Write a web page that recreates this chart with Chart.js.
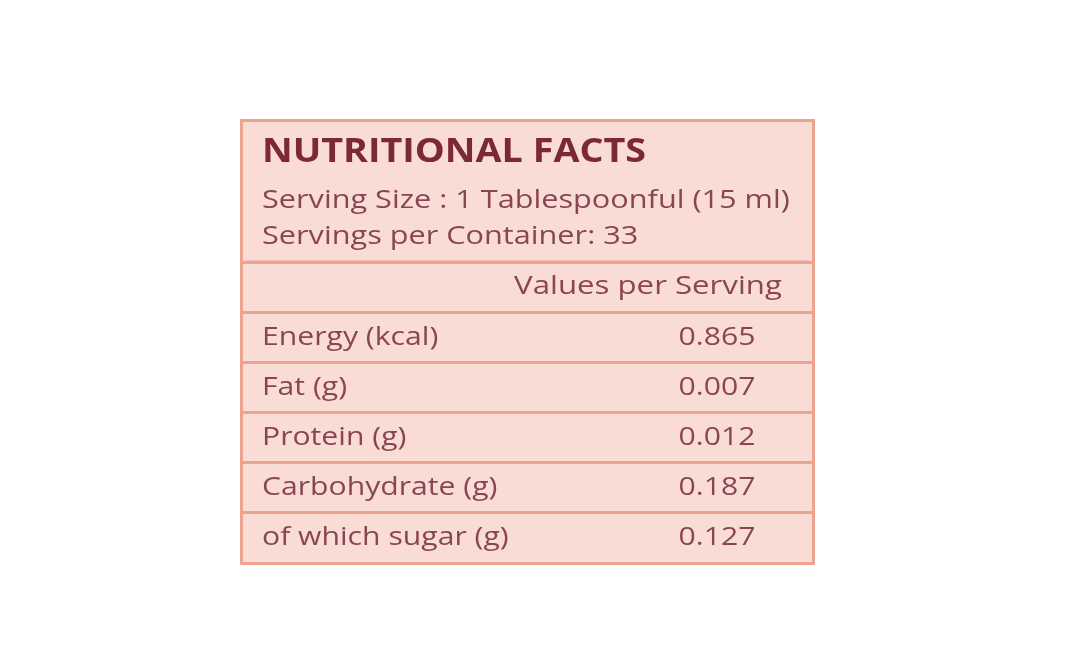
<!DOCTYPE html>
<html>
<head>
<meta charset="utf-8">
<script src="https://cdn.jsdelivr.net/npm/chart.js@4"></script>
<style>
  html, body { margin: 0; padding: 0; background: #fff; }
  #wrap { width: 1068px; height: 671px; }
</style>
</head>
<body>
<div id="wrap"><canvas id="c" width="1068" height="671"></canvas></div>
<script>
const title = 'NUTRITIONAL FACTS';
const servingLines = ['Serving Size : 1 Tablespoonful (15 ml)', 'Servings per Container: 33'];
const columnHeader = 'Values per Serving';
const nutrients = ['Energy (kcal)', 'Fat (g)', 'Protein (g)', 'Carbohydrate (g)', 'of which sugar (g)'];
const values = ['0.865', '0.007', '0.012', '0.187', '0.127'];

const rowLabels = [columnHeader, ...nutrients];
const dark = '#7b2a35';
const text = '#8a4650';
const line = '#eda48f';
const fill = '#fadcd6';

// draw text stretched horizontally (the label font is wider than Open Sans)
function wideText(ctx, s, x, y, sx, align) {
  ctx.save();
  ctx.translate(x, y);
  ctx.scale(sx, 1);
  ctx.textAlign = align || 'left';
  ctx.fillText(s, 0, 0);
  ctx.restore();
}

const tablePlugin = {
  id: 'nutritionTable',
  beforeDraw(chart) {
    const { ctx, chartArea: a } = chart;
    ctx.save();
    ctx.fillStyle = fill;
    ctx.fillRect(a.left, 119, a.right - a.left, a.bottom - 119);
    ctx.restore();
  },
  afterDraw(chart) {
    const { ctx, chartArea: a } = chart;
    const y = chart.scales.y;
    ctx.save();
    ctx.strokeStyle = line;
    ctx.lineWidth = 3;
    ctx.strokeRect(a.left + 1.5, 120.5, a.right - a.left - 3, a.bottom - 120);
    ctx.beginPath();
    ctx.moveTo(a.left + 6, a.top);
    ctx.lineTo(a.right - 6, a.top);
    ctx.stroke();

    ctx.textBaseline = 'middle';
    ctx.fillStyle = dark;
    ctx.font = 'bold 34px "Open Sans"';
    wideText(ctx, title, a.left + 22, 152, 1.11);
    ctx.fillStyle = text;
    ctx.font = '26px "Open Sans"';
    servingLines.forEach((s, i) => wideText(ctx, s, a.left + 22, 201 + i * 36, 1.18));

    rowLabels.forEach((lab, i) => {
      const py = y.getPixelForValue(i);
      if (i === 0) {
        wideText(ctx, lab, 648, py, 1.2, 'center');
      } else {
        wideText(ctx, lab, a.left + 22, py, 1.16);
        wideText(ctx, values[i - 1], 717, py, 1.16, 'center');
      }
    });
    ctx.restore();
  }
};

new Chart(document.getElementById('c'), {
  type: 'bar',
  data: { labels: rowLabels, datasets: [{ data: rowLabels.map(() => null) }] },
  options: {
    indexAxis: 'y',
    responsive: false,
    animation: false,
    events: [],
    layout: { padding: { top: 262, bottom: 108, left: 240, right: 253 } },
    plugins: { legend: { display: false }, tooltip: { enabled: false } },
    scales: {
      x: { display: false, min: 0, max: 1 },
      y: {
        offset: true,
        ticks: { display: false },
        border: { display: false },
        grid: { offset: true, color: line, lineWidth: 3, drawTicks: false }
      }
    }
  },
  plugins: [tablePlugin]
});
</script>
</body>
</html>
